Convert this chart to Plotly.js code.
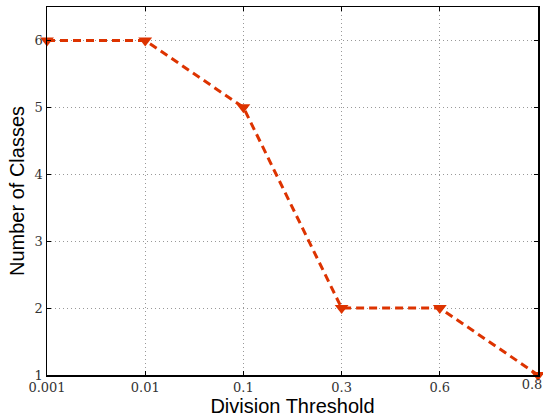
<!DOCTYPE html>
<html>
<head>
<script src="https://cdn.plot.ly/plotly-3.0.1.min.js"></script>
<style>html,body{margin:0;padding:0;background:#fff;}</style>
</head>
<body>
<div id="chart" style="width:543px;height:418px;"></div>
<script>
const thresholds = ['0.001', '0.01', '0.1', '0.3', '0.6', '0.8'];
const numClasses = [6, 6, 5, 2, 2, 1];
const yTicks = [1, 2, 3, 4, 5, 6];

const xIdx = thresholds.map((_, i) => i);
const last = thresholds.length - 1;

const trace = {
  x: xIdx,
  y: numClasses,
  type: 'scatter',
  mode: 'lines+markers',
  line: {color: '#dd3300', width: 3, dash: '8px,5px'},
  marker: {symbol: 'triangle-down', size: 12, color: '#dd3300'},
  cliponaxis: false,
  hoverinfo: 'skip'
};
// carrier for the secondary axis that only holds the last (shifted) label
const carrier = {
  x: xIdx, y: numClasses, xaxis: 'x2', yaxis: 'y',
  type: 'scatter', mode: 'none', hoverinfo: 'skip', showlegend: false
};

const tickFont = {family: '"DejaVu Serif", "Liberation Serif", serif', size: 13, color: '#333'};
const titleFont = {family: '"Liberation Sans", Arial, sans-serif', size: 20, color: '#000'};

const layout = {
  width: 543, height: 418,
  margin: {l: 47, r: 5, t: 7, b: 43},
  paper_bgcolor: '#fff', plot_bgcolor: '#fff',
  showlegend: false,
  xaxis: {
    range: [0, last],
    tickmode: 'array',
    tickvals: xIdx,
    ticktext: thresholds.map((t, i) => i === last ? '' : t),
    ticks: 'inside', ticklen: 4, tickcolor: '#000', tickwidth: 1,
    showline: true, linecolor: '#000', linewidth: 1.5, mirror: 'ticks',
    showgrid: true, gridcolor: '#999', griddash: '1px,3px', gridwidth: 1,
    zeroline: false,
    tickfont: tickFont,
    title: {text: 'Division Threshold', font: titleFont, standoff: 2}
  },
  xaxis2: {
    overlaying: 'x', anchor: 'y', side: 'bottom',
    range: [0, last],
    tickmode: 'array',
    tickvals: [last],
    ticktext: [thresholds[last]],
    ticks: '', showline: false, showgrid: false, zeroline: false,
    tickfont: tickFont,
    ticklabelshift: -6,
    ticklabeloverflow: 'allow'
  },
  yaxis: {
    range: [1, 6.5],
    tickmode: 'array',
    tickvals: yTicks,
    ticktext: yTicks.map(String),
    ticks: 'inside', ticklen: 4, tickcolor: '#000', tickwidth: 1,
    showline: true, linecolor: '#000', linewidth: 1.5, mirror: 'ticks',
    showgrid: true, gridcolor: '#999', griddash: '1px,3px', gridwidth: 1,
    zeroline: false,
    tickfont: tickFont,
    title: {text: 'Number of Classes', font: titleFont, standoff: 4}
  }
};

Plotly.newPlot('chart', [trace, carrier], layout, {displayModeBar: false, staticPlot: true});
</script>
</body>
</html>
